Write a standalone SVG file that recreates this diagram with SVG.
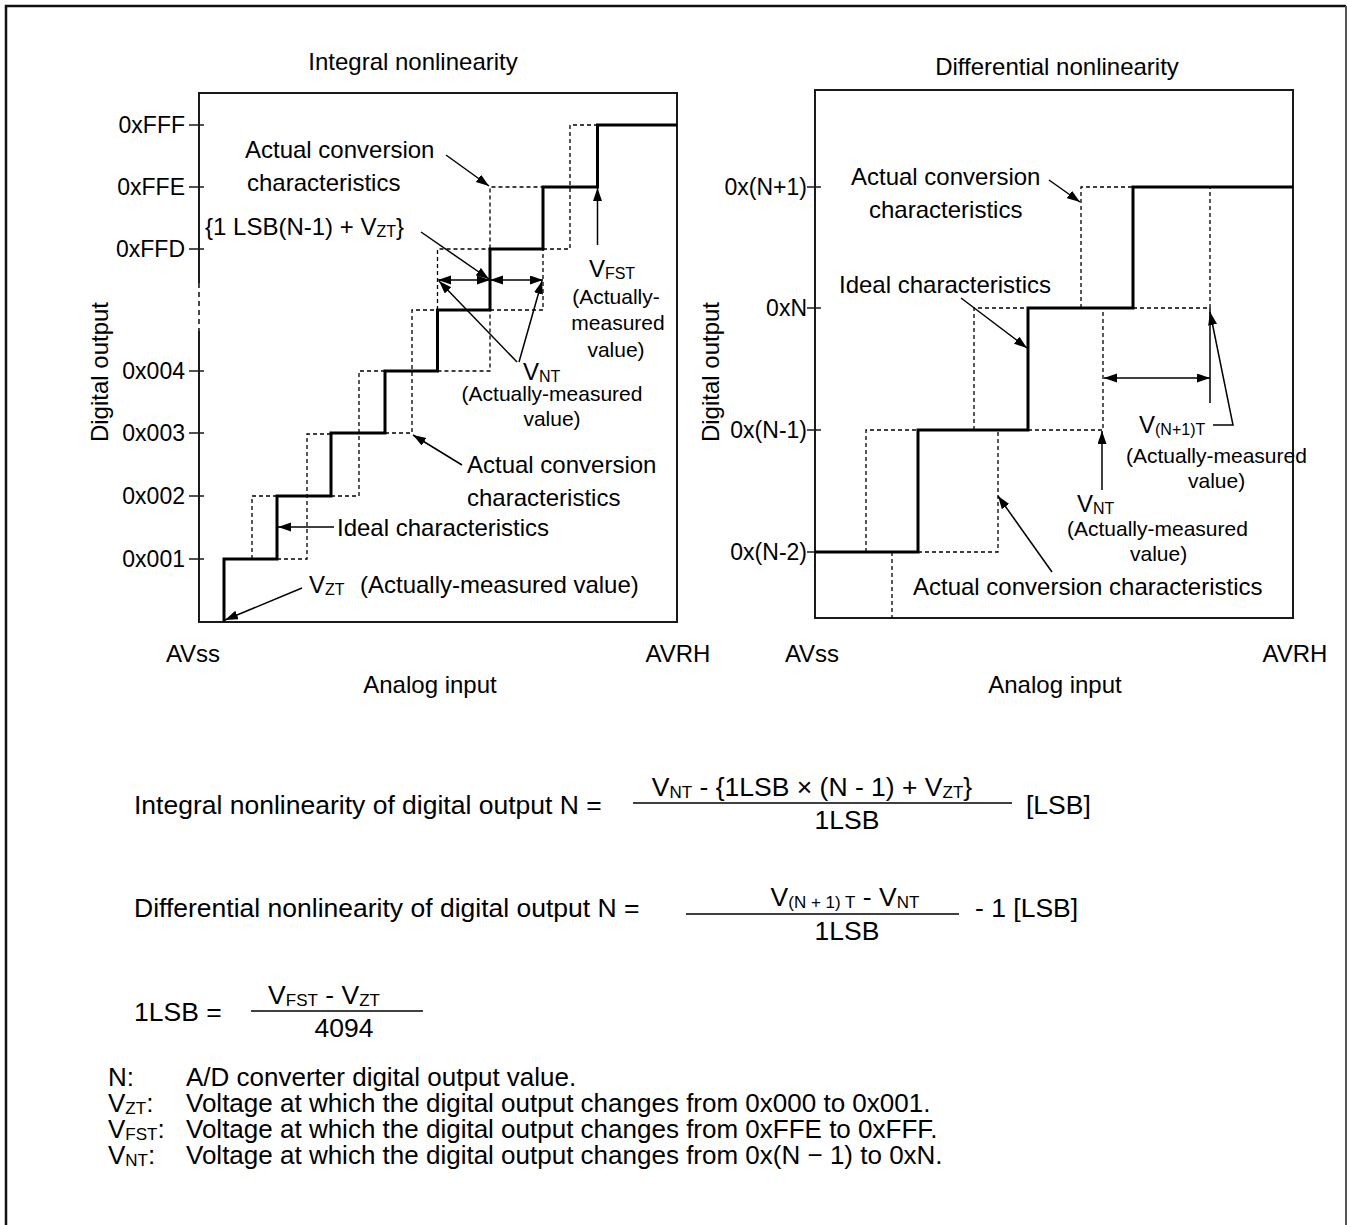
<svg xmlns="http://www.w3.org/2000/svg" width="1347" height="1225" viewBox="0 0 1347 1225">
<defs>
<style>
.t{font-family:"Liberation Sans",Arial,Helvetica,sans-serif;fill:#000}
.f24{font-size:24px}.f23{font-size:23px}.f21{font-size:21px}.f26{font-size:26px}.f265{font-size:26.5px}
.s16{font-size:16px}.s15{font-size:15px}.s17{font-size:17px}
.box{fill:none;stroke:#1a1a1a;stroke-width:2}
.ideal{fill:none;stroke:#000;stroke-width:3}
.act{fill:none;stroke:#000;stroke-width:1.3;stroke-dasharray:4 3}
.tick{fill:none;stroke:#1a1a1a;stroke-width:1.6}
.arr{fill:none;stroke:#000;stroke-width:1.5;marker-end:url(#ah)}
.dbl{fill:none;stroke:#000;stroke-width:1.5;marker-start:url(#ah);marker-end:url(#ah)}
.ln{fill:none;stroke:#000;stroke-width:1.5}
.frac{fill:none;stroke:#000;stroke-width:1.6}
</style>
<marker id="ah" markerUnits="userSpaceOnUse" markerWidth="14" markerHeight="10" refX="13" refY="4.5" orient="auto-start-reverse">
<path d="M0,0 L13,4.5 L0,9 z" fill="#000"/>
</marker>
</defs>
<rect width="1347" height="1225" fill="#fff"/>
<g id="frame">
<path d="M6,1230 V6 H1346" fill="none" stroke="#111" stroke-width="2.5"/>
<path d="M1346,6 V1230" fill="none" stroke="#555" stroke-width="2"/>
</g>

<g id="integral-chart">
<text class="t f24" x="413" y="70" text-anchor="middle">Integral nonlinearity</text>
<path class="box" d="M199,283 V93 H677 V622 H199 V331"/>
<line x1="199" y1="283" x2="199" y2="331" stroke="#1a1a1a" stroke-width="1.6" stroke-dasharray="5 4"/>
<g id="integral-ticks">
<path class="tick" d="M189,125 H204 M189,187 H204 M189,249 H204 M189,371 H204 M189,433 H204 M189,496 H204 M189,559 H204"/>
<g class="t f23" text-anchor="end">
<text x="185" y="133">0xFFF</text>
<text x="185" y="195">0xFFE</text>
<text x="185" y="257">0xFFD</text>
<text x="185" y="379">0x004</text>
<text x="185" y="441">0x003</text>
<text x="185" y="504">0x002</text>
<text x="185" y="567">0x001</text>
</g>
</g>
<path id="integral-actual" class="act" d="M252,559 V496 H277 M277,559 H307 V434 H331 M331,496 H359 V371 H385 M385,433 H412 V310 H437.5 M437.5,310 V249 H490 M437.5,371 H490 V187 H543 M490,310 H543 V249 M543,249 H570 V125 H597.5"/>
<path id="integral-ideal" class="ideal" d="M224,622 V559 H277 V496 H331 V433 H385 V371 H437.5 V310 H490 V249 H543 V187 H597.5 V125 H677"/>
<g id="integral-labels" class="t">
<text class="f24" x="245" y="158">Actual conversion</text>
<text class="f24" x="247" y="191">characteristics</text>
<text class="f24" x="205" y="235">{1 LSB(N-1) + V<tspan class="s16" dy="2">ZT</tspan><tspan dy="-2">}</tspan></text>
<g text-anchor="middle">
<text class="f24" x="612" y="277">V<tspan class="s16" dy="2">FST</tspan></text>
<text class="f21" x="616" y="304">(Actually-</text>
<text class="f21" x="618" y="330">measured</text>
<text class="f21" x="616" y="357">value)</text>
</g>
<text class="f24" x="523" y="380">V<tspan class="s16" dy="2">NT</tspan></text>
<text class="f21" x="552" y="401" text-anchor="middle">(Actually-measured</text>
<text class="f21" x="552" y="426" text-anchor="middle">value)</text>
<text class="f24" x="467" y="473">Actual conversion</text>
<text class="f24" x="467" y="506">characteristics</text>
<text class="f24" x="337" y="536">Ideal characteristics</text>
<text class="f24" x="309" y="593">V<tspan class="s16" dy="2">ZT</tspan></text>
<text class="f24" x="360" y="593">(Actually-measured value)</text>
</g>
<g id="integral-connectors">
<path class="arr" d="M446,155 L489,186"/>
<path class="arr" d="M421,232 L489,279"/>
<path class="dbl" d="M438,280 H490"/>
<path class="dbl" d="M490,280 H543"/>
<path class="arr" d="M517,362 L439,281"/>
<path class="arr" d="M519,362 L542,281"/>
<path class="arr" d="M597.5,245 V188"/>
<path class="arr" d="M462,465 L413,435"/>
<path class="arr" d="M334,527 H278"/>
<path class="arr" d="M302,588 L225,620"/>
</g>
<g class="t f24" text-anchor="middle">
<text transform="translate(108,372) rotate(-90)">Digital output</text>
<text x="193" y="662">AVss</text>
<text x="678" y="662">AVRH</text>
<text x="430" y="693">Analog input</text>
</g>
</g>

<g id="differential-chart">
<text class="t f24" x="1057" y="75" text-anchor="middle">Differential nonlinearity</text>
<rect class="box" x="815" y="90" width="478" height="528"/>
<g id="differential-ticks">
<path class="tick" d="M807,187 H821 M807,308 H821 M807,430 H821 M807,552 H821"/>
<g class="t f23" text-anchor="end">
<text x="807" y="195">0x(N+1)</text>
<text x="807" y="316">0xN</text>
<text x="807" y="438">0x(N-1)</text>
<text x="807" y="560">0x(N-2)</text>
</g>
</g>
<path id="differential-actual" class="act" d="M866,552 V430 H918 M918,552 H998 V430 M892,552 V618 M974,430 V308 H1028 M1028,430 H1103 V308 M1081,308 V187 H1133 M1133,308 H1210 V187"/>
<path id="differential-ideal" class="ideal" d="M815,552 H918 V430 H1028 V308 H1133 V187 H1293"/>
<g id="differential-labels" class="t">
<text class="f24" x="851" y="185">Actual conversion</text>
<text class="f24" x="869" y="218">characteristics</text>
<text class="f24" x="839" y="293">Ideal characteristics</text>
<text class="f24" x="1139" y="433">V<tspan class="s16" dy="2">(N+1)T</tspan></text>
<text class="f21" x="1126" y="463">(Actually-measured</text>
<text class="f21" x="1188" y="488">value)</text>
<text class="f24" x="1077" y="512">V<tspan class="s16" dy="2">NT</tspan></text>
<text class="f21" x="1067" y="536">(Actually-measured</text>
<text class="f21" x="1130" y="561">value)</text>
<text class="f24" x="913" y="595">Actual conversion characteristics</text>
</g>
<g id="differential-connectors">
<path class="arr" d="M1049,180 L1080,202"/>
<path class="arr" d="M961,298 L1027,348"/>
<path class="dbl" d="M1104,378 H1210"/>
<path class="ln" d="M1210,308 V403"/>
<path class="arr" d="M1213,425 H1233 L1210,312"/>
<path class="arr" d="M1102,490 V431"/>
<path class="arr" d="M1052,572 L998,496"/>
</g>
<g class="t f24" text-anchor="middle">
<text transform="translate(719,372) rotate(-90)">Digital output</text>
<text x="812" y="662">AVss</text>
<text x="1295" y="662">AVRH</text>
<text x="1055" y="693">Analog input</text>
</g>
</g>

<g id="formulas" class="t f265">
<g id="formula-integral">
<text x="134" y="814">Integral nonlinearity of digital output N =</text>
<text x="812" y="796" text-anchor="middle">V<tspan class="s17" dy="2">NT</tspan><tspan dy="-2"> - {1LSB × (N - 1) + V</tspan><tspan class="s17" dy="2">ZT</tspan><tspan dy="-2">}</tspan></text>
<line class="frac" x1="633" y1="803" x2="1012" y2="803"/>
<text x="847" y="829" text-anchor="middle">1LSB</text>
<text x="1026" y="814">[LSB]</text>
</g>
<g id="formula-differential">
<text x="134" y="917">Differential nonlinearity of digital output N =</text>
<text x="845" y="906" text-anchor="middle">V<tspan class="s17" dy="2">(N + 1) T</tspan><tspan dy="-2"> - V</tspan><tspan class="s17" dy="2">NT</tspan></text>
<line class="frac" x1="686" y1="914" x2="959" y2="914"/>
<text x="847" y="940" text-anchor="middle">1LSB</text>
<text x="975" y="917">- 1 [LSB]</text>
</g>
<g id="formula-lsb">
<text x="134" y="1021">1LSB =</text>
<text x="324" y="1004" text-anchor="middle">V<tspan class="s17" dy="2">FST</tspan><tspan dy="-2"> - V</tspan><tspan class="s17" dy="2">ZT</tspan></text>
<line class="frac" x1="251" y1="1011" x2="423" y2="1011"/>
<text x="344" y="1037" text-anchor="middle">4094</text>
</g>
</g>

<g id="legend" class="t f26">
<text x="108" y="1086">N:</text>
<text x="186" y="1086">A/D converter digital output value.</text>
<text x="108" y="1112">V<tspan class="s17" dy="2">ZT</tspan><tspan dy="-2">:</tspan></text>
<text x="186" y="1112">Voltage at which the digital output changes from 0x000 to 0x001.</text>
<text x="108" y="1138">V<tspan class="s17" dy="2">FST</tspan><tspan dy="-2">:</tspan></text>
<text x="186" y="1138">Voltage at which the digital output changes from 0xFFE to 0xFFF.</text>
<text x="108" y="1164">V<tspan class="s17" dy="2">NT</tspan><tspan dy="-2">:</tspan></text>
<text x="186" y="1164">Voltage at which the digital output changes from 0x(N − 1) to 0xN.</text>
</g>
</svg>
